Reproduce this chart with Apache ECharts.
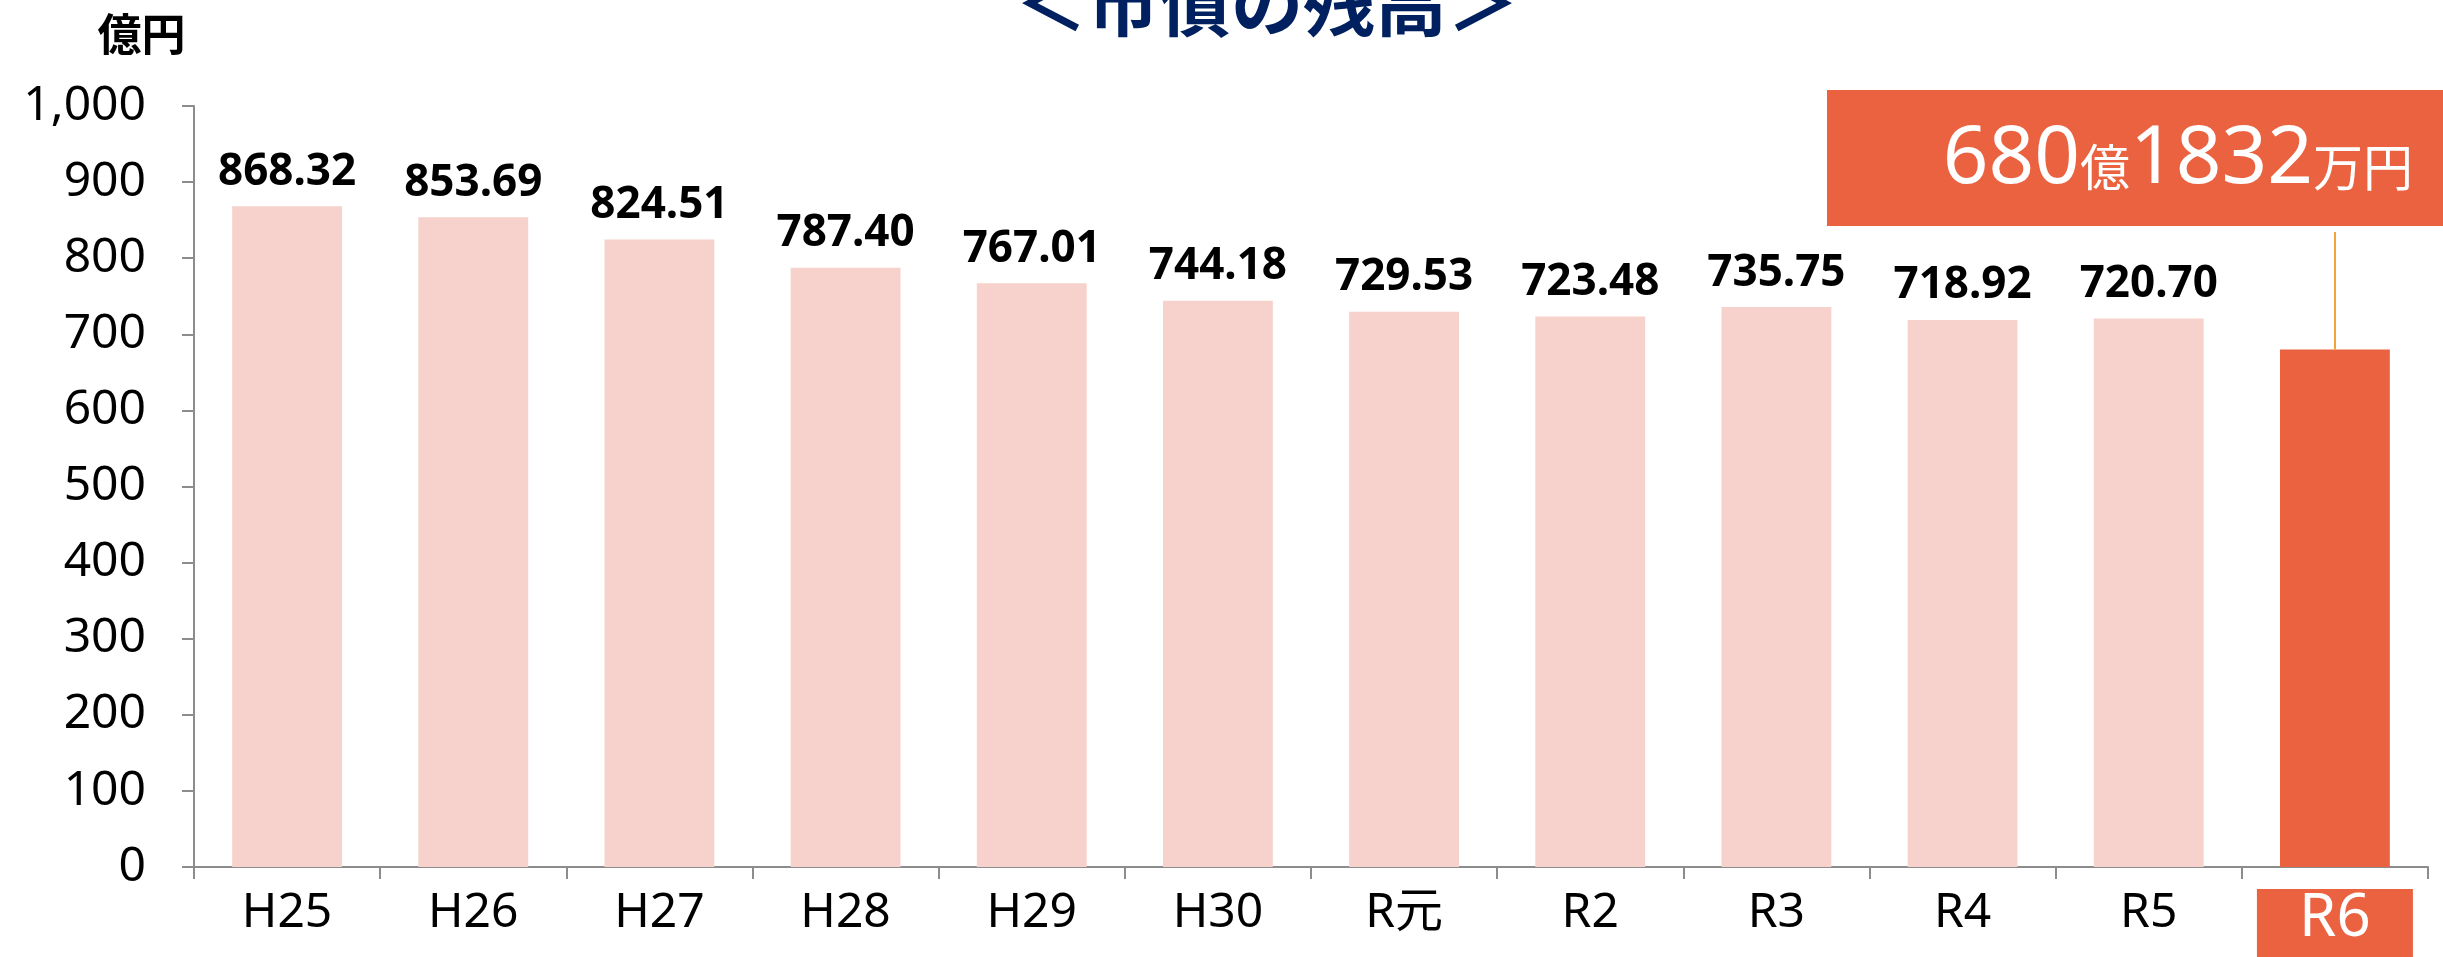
<!DOCTYPE html>
<html>
<head>
<meta charset="utf-8" />
<title>市債の残高</title>
<script src="https://cdn.jsdelivr.net/npm/echarts@6/dist/echarts.min.js"></script>
<style>
  html, body { margin: 0; padding: 0; background: #fff; }
  #main { width: 2443px; height: 957px; }
</style>
</head>
<body>
<div id="main"></div>
<script>
// 年度と残高（億円）
var categories = ['H25', 'H26', 'H27', 'H28', 'H29', 'H30', 'R元', 'R2', 'R3', 'R4', 'R5', 'R6'];
var balances = [868.32, 853.69, 824.51, 787.40, 767.01, 744.18, 729.53, 723.48, 735.75, 718.92, 720.70, 680.18];
var yTicks = [0, 100, 200, 300, 400, 500, 600, 700, 800, 900, 1000];
var highlightIndex = 11;
var calloutParts = ['680', '億', '1832', '万円'];

var FONT = '"Noto Sans", "Noto Sans CJK JP", sans-serif';
var CJK = '"Noto Sans CJK JP", sans-serif';
var PALE = '#F7D1CB';
var RED = '#EB6241';

var chart = echarts.init(document.getElementById('main'), null, { renderer: 'canvas' });

var barData = balances.map(function (v, i) {
  var item = { value: v, itemStyle: { color: i === highlightIndex ? RED : PALE } };
  if (i === highlightIndex) item.label = { show: false };
  return item;
});

chart.setOption({
  animation: false,
  textStyle: { fontFamily: FONT },
  title: {
    text: '＜市債の残高＞',
    left: 1262,
    top: -38,
    textAlign: 'center',
    textStyle: { fontSize: 72, fontWeight: 'bold', color: '#002060', fontFamily: CJK }
  },
  grid: { left: 194, right: 15, top: 106, bottom: 90, containLabel: false, outerBoundsMode: 'none' },
  xAxis: {
    type: 'category',
    data: categories,
    axisLine: { lineStyle: { color: '#8c8c8c', width: 2 } },
    axisTick: { show: true, length: 12, lineStyle: { color: '#8c8c8c', width: 2 } },
    axisLabel: {
      interval: 0,
      hideOverlap: false,
      margin: 22,
      color: '#000',
      fontSize: 48,
      fontFamily: FONT,
      formatter: function (v, i) {
        return i === highlightIndex ? '{hl|' + v + '}' : v;
      },
      rich: {
        hl: {
          color: '#fff',
          fontSize: 60,
          fontFamily: FONT,
          backgroundColor: RED,
          width: 120,
          align: 'center',
          padding: [0, 18, 14, 18]
        }
      }
    }
  },
  yAxis: {
    type: 'value',
    min: 0,
    max: 1000,
    interval: 100,
    name: '億円',
    nameLocation: 'end',
    nameGap: 50,
    nameTextStyle: { fontSize: 44, fontWeight: 'bold', color: '#000', fontFamily: CJK, align: 'center', padding: [0, 0, 0, -105] },
    axisLine: { show: true, lineStyle: { color: '#8c8c8c', width: 2 } },
    axisTick: { show: true, length: 12, lineStyle: { color: '#8c8c8c', width: 2 } },
    splitLine: { show: false },
    axisLabel: {
      margin: 48,
      color: '#000',
      fontSize: 48,
      fontFamily: FONT,
      customValues: yTicks,
      formatter: function (v) { return v.toLocaleString('en-US'); }
    }
  },
  series: [{
    type: 'bar',
    data: barData,
    barCategoryGap: '41%',
    label: {
      show: true,
      position: 'top',
      distance: 12,
      color: '#000',
      fontSize: 44,
      fontWeight: 'bold',
      fontFamily: FONT,
      formatter: function (p) { return p.value.toFixed(2); }
    },
    markLine: {
      silent: true,
      symbol: 'none',
      label: { show: false },
      lineStyle: { color: '#F2A33A', width: 2, type: 'solid' },
      data: [[
        { coord: [highlightIndex, balances[highlightIndex]] },
        { coord: [highlightIndex, balances[highlightIndex]], y: 232 }
      ]]
    }
  }],
  graphic: [{
    type: 'rect',
    left: 1827,
    top: 90,
    shape: { width: 640, height: 136 },
    style: { fill: RED },
    z: 10
  }, {
    type: 'text',
    right: 30,
    top: 120,
    z: 11,
    style: {
      text: '{big|' + calloutParts[0] + '}{small|' + calloutParts[1] + '}{big|' + calloutParts[2] + '}{small|' + calloutParts[3] + '}',
      fill: '#fff',
      rich: {
        big: { fontSize: 80, fill: '#fff', fontFamily: FONT, verticalAlign: 'bottom' },
        small: { fontSize: 50, fill: '#fff', fontFamily: CJK, verticalAlign: 'bottom', padding: [0, 0, 8, 0] }
      }
    }
  }]
});
</script>
</body>
</html>
